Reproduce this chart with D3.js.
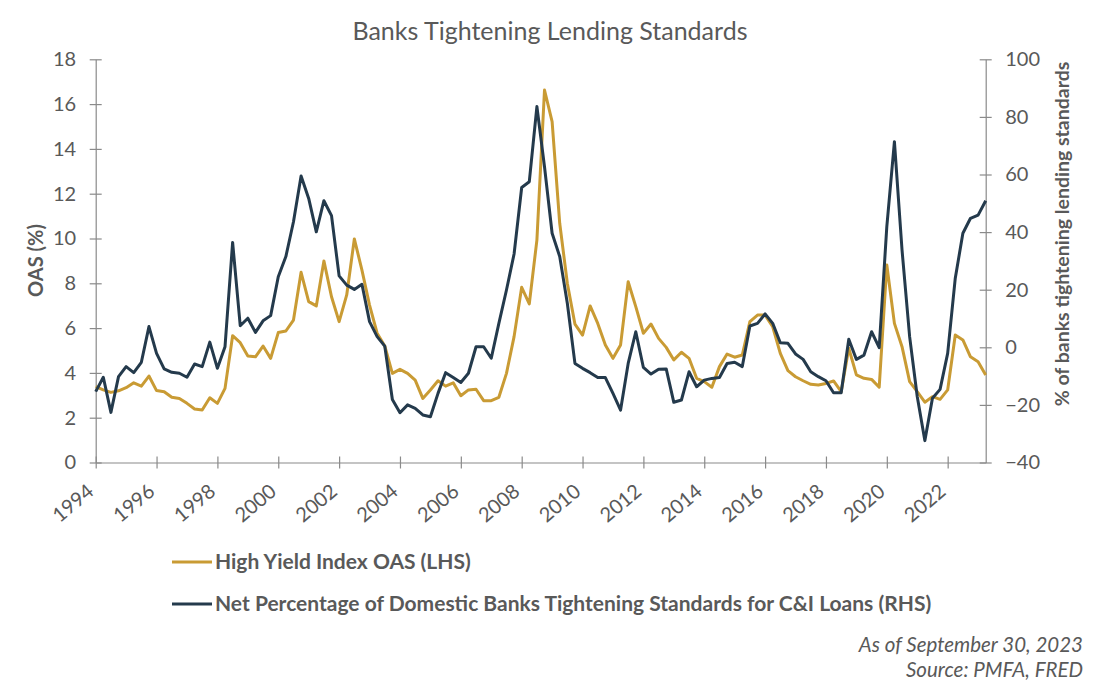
<!DOCTYPE html>
<html>
<head>
<meta charset="utf-8">
<script src="https://cdn.jsdelivr.net/npm/d3@7"></script>
<style>
  html, body { margin: 0; padding: 0; background: #ffffff; }
  svg { display: block; font-family: Lato, "Open Sans", sans-serif; }
</style>
</head>
<body>
<svg id="chart" width="1100" height="696"></svg>
<script>
// ---- Data (quarterly, starting 1994 Q1) ----
const startYear = 1994;
const oasSeries = [
  3.39, 3.24, 3.13, 3.20, 3.34, 3.56, 3.41, 3.86, 3.21, 3.16,
  2.91, 2.86, 2.64, 2.39, 2.34, 2.89, 2.64, 3.31, 5.66, 5.35,
  4.75, 4.72, 5.20, 4.65, 5.80, 5.87, 6.36, 8.49, 7.18, 6.99,
  9.00, 7.40, 6.29, 7.48, 9.98, 8.59, 7.03, 5.77, 5.20, 3.98,
  4.16, 3.98, 3.68, 2.86, 3.24, 3.65, 3.41, 3.56, 2.98, 3.24,
  3.27, 2.76, 2.76, 2.91, 3.98, 5.62, 7.82, 7.08, 9.93, 16.63,
  15.22, 10.68, 8.00, 6.18, 5.69, 6.99, 6.21, 5.25, 4.65, 5.25,
  8.07, 6.96, 5.77, 6.18, 5.54, 5.14, 4.58, 4.92, 4.65, 3.76,
  3.61, 3.36, 4.28, 4.84, 4.70, 4.80, 6.29, 6.58, 6.58, 6.06,
  4.87, 4.10, 3.83, 3.65, 3.49, 3.46, 3.53, 3.64, 3.16, 5.10,
  3.91, 3.76, 3.71, 3.36, 8.82, 6.21, 5.17, 3.61, 3.16, 2.69,
  2.94, 2.82, 3.24, 5.69, 5.47, 4.72, 4.50, 3.91
];
const tighteningSeries = [
  -15.4, -10.4, -22.6, -10.2, -6.7, -8.8, -5.2, 7.2, -2.1, -7.5,
  -8.7, -9.0, -10.4, -5.8, -6.7, 1.8, -7.3, 0.2, 36.4, 7.5,
  10.1, 5.2, 9.2, 11.0, 24.5, 31.5, 43.6, 59.5, 51.7, 40.1,
  50.9, 45.7, 24.8, 21.6, 20.1, 21.9, 8.9, 3.7, 0.4, -18.1,
  -22.7, -20.0, -21.2, -23.5, -24.1, -16.0, -8.8, -10.5, -12.2, -9.0,
  0.2, 0.2, -3.8, 8.3, 19.9, 32.4, 55.5, 57.5, 83.6, 62.7,
  39.6, 31.5, 15.3, -5.6, -7.3, -8.8, -10.5, -10.5, -16.0, -21.8,
  -5.6, 5.4, -7.0, -9.3, -7.6, -7.5, -19.1, -18.3, -8.5, -13.7,
  -11.4, -10.8, -10.5, -5.6, -5.2, -6.7, 7.4, 8.3, 11.6, 8.3,
  1.6, 1.4, -2.3, -4.2, -8.5, -10.2, -11.6, -15.8, -15.8, 2.8,
  -4.2, -2.7, 5.4, -0.1, 41.9, 71.4, 33.8, 3.7, -17.1, -32.4,
  -17.7, -14.6, -2.1, 24.0, 39.6, 44.8, 45.9, 50.9
];
const xTickYears = [1994, 1996, 1998, 2000, 2002, 2004, 2006, 2008, 2010, 2012, 2014, 2016, 2018, 2020, 2022];
const leftTicks = [0, 2, 4, 6, 8, 10, 12, 14, 16, 18];
const rightTicks = [-40, -20, 0, 20, 40, 60, 80, 100];
const seriesNames = [
  "High Yield Index OAS (LHS)",
  "Net Percentage of Domestic Banks Tightening Standards for C&I Loans (RHS)"
];
const titleText = "Banks Tightening Lending Standards";
const leftAxisTitle = "OAS (%)";
const rightAxisTitle = "% of banks tightening lending standards";
const footnotes = ["As of September 30, 2023", "Source: PMFA, FRED"];

// ---- Layout ----
const GOLD = "#C99B34";
const NAVY = "#243A4C";
const TEXT = "#595959";
const AXIS = "#8a8a8a";

const svg = d3.select("#chart");
const plotLeft = 95.7, plotRight = 985.7, plotTop = 59.3, plotBottom = 462.5;

const quarterTimes = oasSeries.map((_, i) => startYear + i / 4);

const x = d3.scaleLinear().domain([startYear, quarterTimes[quarterTimes.length - 1]]).range([plotLeft, plotRight]);
const yL = d3.scaleLinear().domain([0, 18]).range([plotBottom, plotTop]);
const yR = d3.scaleLinear().domain([-40, 100]).range([plotBottom, plotTop]);

// Title
svg.append("text")
  .attr("x", 550).attr("y", 39.5)
  .attr("text-anchor", "middle")
  .attr("font-size", 25)
  .attr("fill", TEXT)
  .text(titleText);

// Axes
function styleAxis(g) {
  g.select(".domain").attr("stroke", AXIS).attr("stroke-width", 1.2);
  g.selectAll(".tick line").attr("stroke", AXIS).attr("stroke-width", 1.2);
  g.selectAll(".tick text").attr("fill", TEXT).attr("font-size", 20).attr("font-family", "Lato, sans-serif");
}

const gL = svg.append("g").attr("transform", `translate(${plotLeft},0)`)
  .call(d3.axisLeft(yL).tickValues(leftTicks).tickSize(6).tickPadding(13.5).tickSizeOuter(0));
styleAxis(gL);
gL.selectAll(".tick line").attr("x1", 6);

const gR = svg.append("g").attr("transform", `translate(${plotRight},0)`)
  .call(d3.axisRight(yR).tickValues(rightTicks).tickSize(6).tickPadding(13.5).tickSizeOuter(0));
styleAxis(gR);
gR.selectAll(".tick line").attr("x1", -6);

const gX = svg.append("g").attr("transform", `translate(0,${plotBottom})`)
  .call(d3.axisBottom(x).tickValues(xTickYears).tickFormat(d3.format("d")).tickSize(6).tickSizeOuter(0));
styleAxis(gX);
gX.selectAll(".tick line").attr("y1", -6);
gX.selectAll(".tick text")
  .attr("text-anchor", "end")
  .attr("x", 0).attr("y", 0).attr("dy", 0)
  .attr("transform", "translate(-1,31) rotate(-40)");

// Axis titles
svg.append("text")
  .attr("transform", `translate(43,260.5) rotate(-90)`)
  .attr("text-anchor", "middle")
  .attr("font-size", 20).attr("font-weight", "bold")
  .attr("fill", TEXT)
  .text(leftAxisTitle);

svg.append("text")
  .attr("transform", `translate(1069,234) rotate(-90)`)
  .attr("text-anchor", "middle")
  .attr("font-size", 19.5).attr("font-weight", "bold")
  .attr("fill", TEXT)
  .text(rightAxisTitle);

// Lines
const lineL = d3.line().x((d, i) => x(quarterTimes[i])).y(d => yL(d)).curve(d3.curveLinear);
const lineR = d3.line().x((d, i) => x(quarterTimes[i])).y(d => yR(d)).curve(d3.curveLinear);

svg.append("path").datum(oasSeries)
  .attr("d", lineL).attr("fill", "none")
  .attr("stroke", GOLD).attr("stroke-width", 3).attr("stroke-linejoin", "round");

svg.append("path").datum(tighteningSeries)
  .attr("d", lineR).attr("fill", "none")
  .attr("stroke", NAVY).attr("stroke-width", 3).attr("stroke-linejoin", "round");

// Legend
const legendColors = [GOLD, NAVY];
const legendY = [562, 604];
seriesNames.forEach((name, i) => {
  svg.append("line")
    .attr("x1", 172).attr("x2", 212)
    .attr("y1", legendY[i]).attr("y2", legendY[i])
    .attr("stroke", legendColors[i]).attr("stroke-width", 3);
  svg.append("text")
    .attr("x", 215).attr("y", legendY[i] + 6.5)
    .attr("font-size", 21).attr("font-weight", "bold")
    .attr("fill", TEXT)
    .text(name);
});

// Footnotes
footnotes.forEach((t, i) => {
  svg.append("text")
    .attr("x", 1083).attr("y", 652 + i * 25)
    .attr("text-anchor", "end")
    .attr("font-size", 20.5).attr("font-style", "italic")
    .attr("fill", TEXT)
    .text(t);
});
</script>
</body>
</html>
